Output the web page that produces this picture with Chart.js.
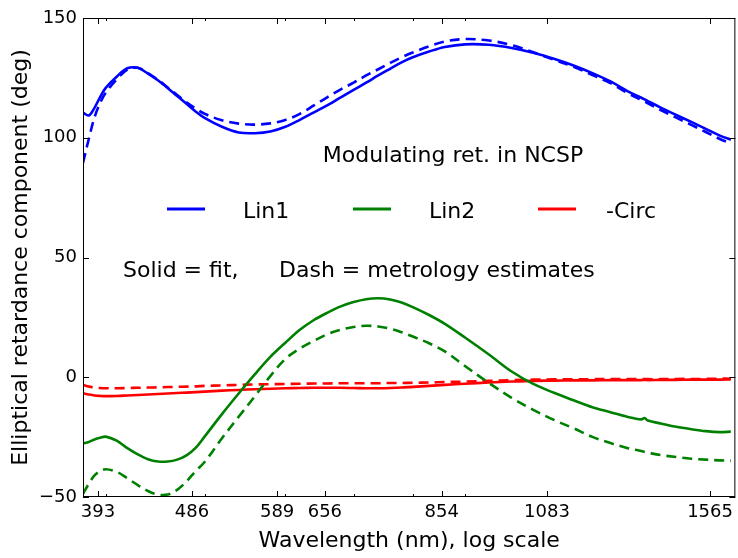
<!DOCTYPE html>
<html>
<head>
<meta charset="utf-8">
<title>Modulating retardance in NCSP</title>
<script src="https://cdn.jsdelivr.net/npm/chart.js@4.4.1/dist/chart.umd.min.js"></script>
<style>
    html, body { margin: 0; padding: 0; background: #fff; }
    #wrap { width: 738px; height: 558px; }
</style>
</head>
<body>
<div id="wrap"><canvas id="retChart"></canvas></div>
<script>
// wavelength grid (nm) shared by all six curves
const wavelengths = [380, 385, 390, 395, 400, 410, 420, 430, 440, 450, 460, 470, 480, 490, 500,
    520, 540, 560, 580, 600, 620, 640, 660, 680, 700, 720, 740, 760, 780, 800, 830, 860, 900,
    950, 1000, 1050, 1100, 1150, 1200, 1250, 1300, 1340, 1350, 1360, 1400, 1450, 1500, 1550,
    1600, 1640];

const lin1Fit = [110.5, 109.3, 112.5, 117, 120.8, 125.5, 129, 129.2, 126.8, 124, 120.8, 117.4,
    114.2, 111, 108.3, 104.6, 102.2, 101.9, 102.6, 104.6, 107.5, 110.6, 113.6, 116.9, 120, 123,
    126, 128.8, 131.5, 133.6, 136, 137.9, 139, 138.8, 137.5, 135.5, 133, 130.2, 127, 123.5, 119.4,
    116.7, 116, 115.3, 112.6, 109.5, 106.6, 103.7, 100.9, 99.2];
const lin1Metro = [89.5, 99.5, 108.5, 114.5, 118.8, 124.3, 128.5, 129.2, 127, 124.2, 121, 117.8,
    114.8, 112.2, 110, 107.3, 105.9, 105.5, 106, 107.4, 110, 113.5, 117, 120.2, 123, 126, 128.6,
    131.2, 133.6, 135.6, 138.2, 140.2, 141.2, 140.6, 138.7, 135.7, 132.6, 129.6, 126.2, 122.8,
    118.6, 115.8, 115.1, 114.4, 111.6, 108.4, 105.4, 102.4, 99.5, 97.6];

const lin2Fit = [-27.6, -27, -26, -25.3, -24.8, -26.5, -29.6, -32.2, -34.2, -35.2, -35.2, -34.4,
    -32.6, -29.5, -24.8, -15.4, -6.8, 1.2, 8.5, 14.4, 19.8, 23.9, 27, 29.6, 31.4, 32.6, 33, 32.5,
    31.2, 29.3, 26, 22.3, 16.6, 9.5, 2.4, -2.8, -6.5, -9.6, -12.5, -14.6, -16.6, -17.6, -17,
    -18.1, -19.3, -20.7, -21.7, -22.5, -22.9, -22.7];
const lin2Metro = [-48.7, -44.5, -41, -39.2, -38.4, -39.5, -42.2, -45, -47.5, -49, -49, -47,
    -43.5, -39.2, -35.4, -25.5, -16.5, -8, 0.5, 7.6, 12, 15.2, 18, 19.8, 21, 21.5, 21.2, 20.3,
    18.8, 17, 14.2, 10.8, 4.7, -2.4, -8.6, -13.6, -17.8, -21.3, -24.9, -27.5, -29.6, -30.8,
    -31.2, -31.5, -32.5, -33.3, -34, -34.4, -34.7, -34.8];

const circFit = [-6.7, -7.2, -7.6, -7.8, -7.9, -7.8, -7.6, -7.4, -7.2, -7, -6.8, -6.6, -6.4,
    -6.2, -6, -5.6, -5.3, -5, -4.8, -4.6, -4.5, -4.4, -4.4, -4.4, -4.5, -4.6, -4.6, -4.5, -4.3,
    -4, -3.6, -3.2, -2.7, -2.2, -1.8, -1.5, -1.4, -1.3, -1.3, -1.2, -1.2, -1.2, -1.1, -1.2, -1.1,
    -1.1, -1, -1, -1, -0.9];
const circMetro = [-3.2, -3.9, -4.3, -4.5, -4.6, -4.6, -4.5, -4.4, -4.3, -4.2, -4.1, -4, -3.9,
    -3.8, -3.6, -3.4, -3.2, -3, -2.9, -2.8, -2.7, -2.6, -2.6, -2.5, -2.5, -2.5, -2.5, -2.4, -2.4,
    -2.3, -2.2, -2, -1.8, -1.5, -1.2, -1, -0.9, -0.9, -0.8, -0.8, -0.8, -0.8, -0.8, -0.8, -0.8,
    -0.7, -0.7, -0.7, -0.6, -0.6];

const xTickValues = [393, 486, 589, 656, 854, 1083, 1565];
const xMinorTicks = [400, 500, 600, 700, 800, 900];
const yTickValues = [-50, 0, 50, 100, 150];

const legendItems = [
    { label: 'Lin1', color: '#0000ff' },
    { label: 'Lin2', color: '#008000' },
    { label: '-Circ', color: '#ff0000' },
];

function points(values) {
    return wavelengths.map(function (w, i) {
        return { x: w, y: values[i] };
    });
}

function series(label, values, color, dashed) {
    return {
        label: label,
        data: points(values),
        borderColor: color,
        backgroundColor: color,
        borderWidth: 2.6,
        borderDash: dashed ? [10, 6] : [],
        pointRadius: 0,
        tension: 0.35,
        fill: false,
    };
}

// frame with inward ticks on all four sides, plus the legend block inside the axes
const frameAndLegend = {
    id: 'frameAndLegend',
    afterDraw(chart) {
        const ctx = chart.ctx;
        const a = chart.chartArea;
        const xs = chart.scales.x;
        const ys = chart.scales.y;

        ctx.save();
        ctx.strokeStyle = '#000';
        ctx.lineWidth = 1;
        ctx.setLineDash([]);
        ctx.strokeRect(a.left + 0.5, a.top + 0.5, a.right - a.left - 1, a.bottom - a.top - 1);

        function xTick(v, len) {
            const px = Math.round(xs.getPixelForValue(v)) + 0.5;
            ctx.beginPath();
            ctx.moveTo(px, a.bottom);
            ctx.lineTo(px, a.bottom - len);
            ctx.moveTo(px, a.top);
            ctx.lineTo(px, a.top + len);
            ctx.stroke();
        }
        xTickValues.forEach(function (v) { xTick(v, 6); });
        xMinorTicks.forEach(function (v) { xTick(v, 3); });

        yTickValues.forEach(function (v) {
            const py = Math.round(ys.getPixelForValue(v)) + 0.5;
            ctx.beginPath();
            ctx.moveTo(a.left, py);
            ctx.lineTo(a.left + 6, py);
            ctx.moveTo(a.right, py);
            ctx.lineTo(a.right - 6, py);
            ctx.stroke();
        });

        ctx.fillStyle = '#000';
        ctx.font = '22px "DejaVu Sans"';
        ctx.textBaseline = 'alphabetic';
        ctx.textAlign = 'center';
        ctx.fillText('Modulating ret. in NCSP', a.left + 370, a.top + 144);

        ctx.textAlign = 'left';
        const lineStarts = [84, 270, 455];
        const textStarts = [160, 346, 523];
        legendItems.forEach(function (item, i) {
            ctx.strokeStyle = item.color;
            ctx.lineWidth = 3;
            ctx.beginPath();
            ctx.moveTo(a.left + lineStarts[i], a.top + 191);
            ctx.lineTo(a.left + lineStarts[i] + 38, a.top + 191);
            ctx.stroke();
            ctx.fillText(item.label, a.left + textStarts[i], a.top + 199.5);
        });

        ctx.fillText('Solid = fit,', a.left + 40, a.top + 258.5);
        ctx.fillText('Dash = metrology estimates', a.left + 196, a.top + 258.5);
        ctx.restore();
    },
};

Chart.defaults.font.family = '"DejaVu Sans", sans-serif';
Chart.defaults.color = '#000';

function renderRetardanceChart() {
    const canvas = document.getElementById('retChart');

    new Chart(canvas, {
        type: 'line',
        data: {
            datasets: [
                series('Lin1', lin1Fit, '#0000ff', false),
                series('Lin1 metrology', lin1Metro, '#0000ff', true),
                series('Lin2', lin2Fit, '#008000', false),
                series('Lin2 metrology', lin2Metro, '#008000', true),
                series('-Circ', circFit, '#ff0000', false),
                series('-Circ metrology', circMetro, '#ff0000', true),
            ],
        },
        options: {
            responsive: true,
            maintainAspectRatio: false,
            animation: false,
            devicePixelRatio: 1,
            layout: {
                padding: { top: 18, right: 1, left: 0, bottom: 0 },
            },
            plugins: {
                legend: { display: false },
                tooltip: { enabled: false },
            },
            scales: {
                x: {
                    type: 'logarithmic',
                    min: 380,
                    max: 1657,
                    grid: { display: false, drawTicks: false },
                    border: { display: false },
                    afterBuildTicks: function (scale) {
                        scale.ticks = xTickValues.map(function (v) {
                            return { value: v };
                        });
                    },
                    afterFit: function (scale) {
                        scale.height = 61;
                    },
                    ticks: {
                        autoSkip: false,
                        maxRotation: 0,
                        padding: 5,
                        font: { size: 18 },
                        callback: function (value) {
                            return String(value);
                        },
                    },
                    title: {
                        display: true,
                        text: 'Wavelength (nm), log scale',
                        font: { size: 22 },
                        padding: { top: 0, bottom: 4 },
                    },
                },
                y: {
                    min: -50,
                    max: 150,
                    grid: { display: false, drawTicks: false },
                    border: { display: false },
                    afterBuildTicks: function (scale) {
                        scale.ticks = yTickValues.map(function (v) {
                            return { value: v };
                        });
                    },
                    afterFit: function (scale) {
                        scale.width = 83;
                    },
                    ticks: {
                        padding: 6,
                        font: { size: 18 },
                        callback: function (value) {
                            return value < 0 ? '\u2212' + Math.abs(value) : String(value);
                        },
                    },
                    title: {
                        display: true,
                        text: 'Elliptical retardance component (deg)',
                        font: { size: 22 },
                        padding: { top: 8, bottom: 0 },
                    },
                },
            },
        },
        plugins: [frameAndLegend],
    });
}

document.addEventListener('DOMContentLoaded', function () {
    renderRetardanceChart();
});
</script>
</body>
</html>
